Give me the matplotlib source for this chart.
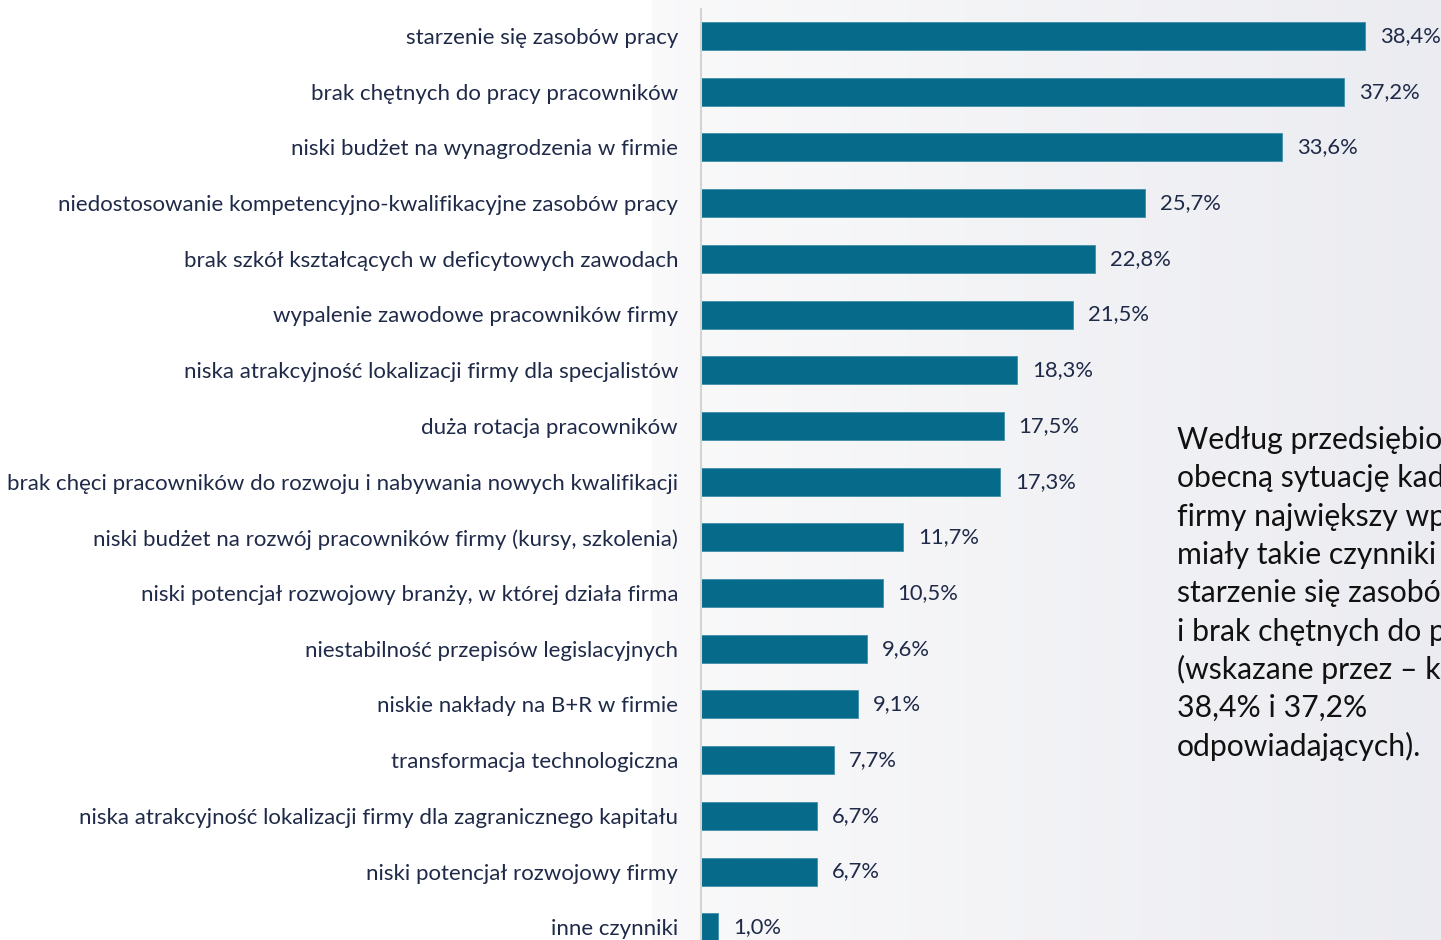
import numpy as np
import matplotlib.pyplot as plt

plt.rcParams['font.family'] = ['Lato', 'DejaVu Sans']

labels = [
    'starzenie się zasobów pracy',
    'brak chętnych do pracy pracowników',
    'niski budżet na wynagrodzenia w firmie',
    'niedostosowanie kompetencyjno-kwalifikacyjne zasobów pracy',
    'brak szkół kształcących w deficytowych zawodach',
    'wypalenie zawodowe pracowników firmy',
    'niska atrakcyjność lokalizacji firmy dla specjalistów',
    'duża rotacja pracowników',
    'brak chęci pracowników do rozwoju i nabywania nowych kwalifikacji',
    'niski budżet na rozwój pracowników firmy (kursy, szkolenia)',
    'niski potencjał rozwojowy branży, w której działa firma',
    'niestabilność przepisów legislacyjnych',
    'niskie nakłady na B+R w firmie',
    'transformacja technologiczna',
    'niska atrakcyjność lokalizacji firmy dla zagranicznego kapitału',
    'niski potencjał rozwojowy firmy',
    'inne czynniki',
]
values = [38.4, 37.2, 33.6, 25.7, 22.8, 21.5, 18.3, 17.5, 17.3,
          11.7, 10.5, 9.6, 9.1, 7.7, 6.7, 6.7, 1.0]

note_lines = [
    'Według przedsiębiorców na',
    'obecną sytuację kadrową',
    'firmy największy wpływ',
    'miały takie czynniki jak',
    'starzenie się zasobów pracy',
    'i brak chętnych do pracy',
    '(wskazane przez – kolejno',
    '38,4% i 37,2%',
    'odpowiadających).',
]

W, H = 1441, 940
fig = plt.figure(figsize=(W / 100, H / 100), dpi=100)

# tlo: biale z lewej, lekki szaroniebieski gradient z prawej
bg = fig.add_axes([0, 0, 1, 1])
xx = np.linspace(0, 1, 400)
t = np.clip((xx - 652 / W) / (1 - 652 / W), 0, 1)
c0 = np.array([0.978, 0.978, 0.982])
c1 = np.array([0.922, 0.925, 0.945])
row = c0 + (c1 - c0) * t[:, None]
row[xx < 652 / W] = 1.0
img = np.tile(row[None, :, :], (20, 1, 1))
bg.imshow(img, aspect='auto', extent=(0, 1, 0, 1))
bg.set_xlim(0, 1)
bg.set_ylim(0, 1)
bg.axis('off')

x0 = 701 / W
ax = fig.add_axes([x0, 0, 1 - x0, 1])
ax.patch.set_alpha(0)

step = 55.7
y = np.arange(len(values))
ax.barh(y, values, height=28 / step, color='#066a8a', edgecolor='#3f8fa8', linewidth=0.6)
ax.set_ylim((H - 36) / step, -36 / step)
ax.set_xlim(0, (W - 701) / 17.29)

for yi, v in zip(y, values):
    ax.annotate(f'{v:.1f}%'.replace('.', ','), (v, yi), xytext=(15, 0),
                textcoords='offset pixels', va='center', ha='left',
                fontsize=15.8, color='#1f2a48', annotation_clip=False)

ax.set_yticks(y)
ax.set_yticklabels(labels, fontsize=16, color='#1f2a48')
ax.tick_params(axis='y', length=0, pad=16.5)
ax.set_xticks([])
for s in ['top', 'right', 'bottom']:
    ax.spines[s].set_visible(False)
ax.spines['left'].set_color('#d4d4d4')
ax.spines['left'].set_linewidth(1.5)
ax.spines['left'].set_bounds((H - 36) / step, (9 - 36) / step)

for i, line in enumerate(note_lines):
    fig.text(1177 / W, 1 - (440 + i * 38.3) / H, line, fontsize=21.7,
             color='#111111', va='center', ha='left')

plt.savefig('out.png', dpi=100)
